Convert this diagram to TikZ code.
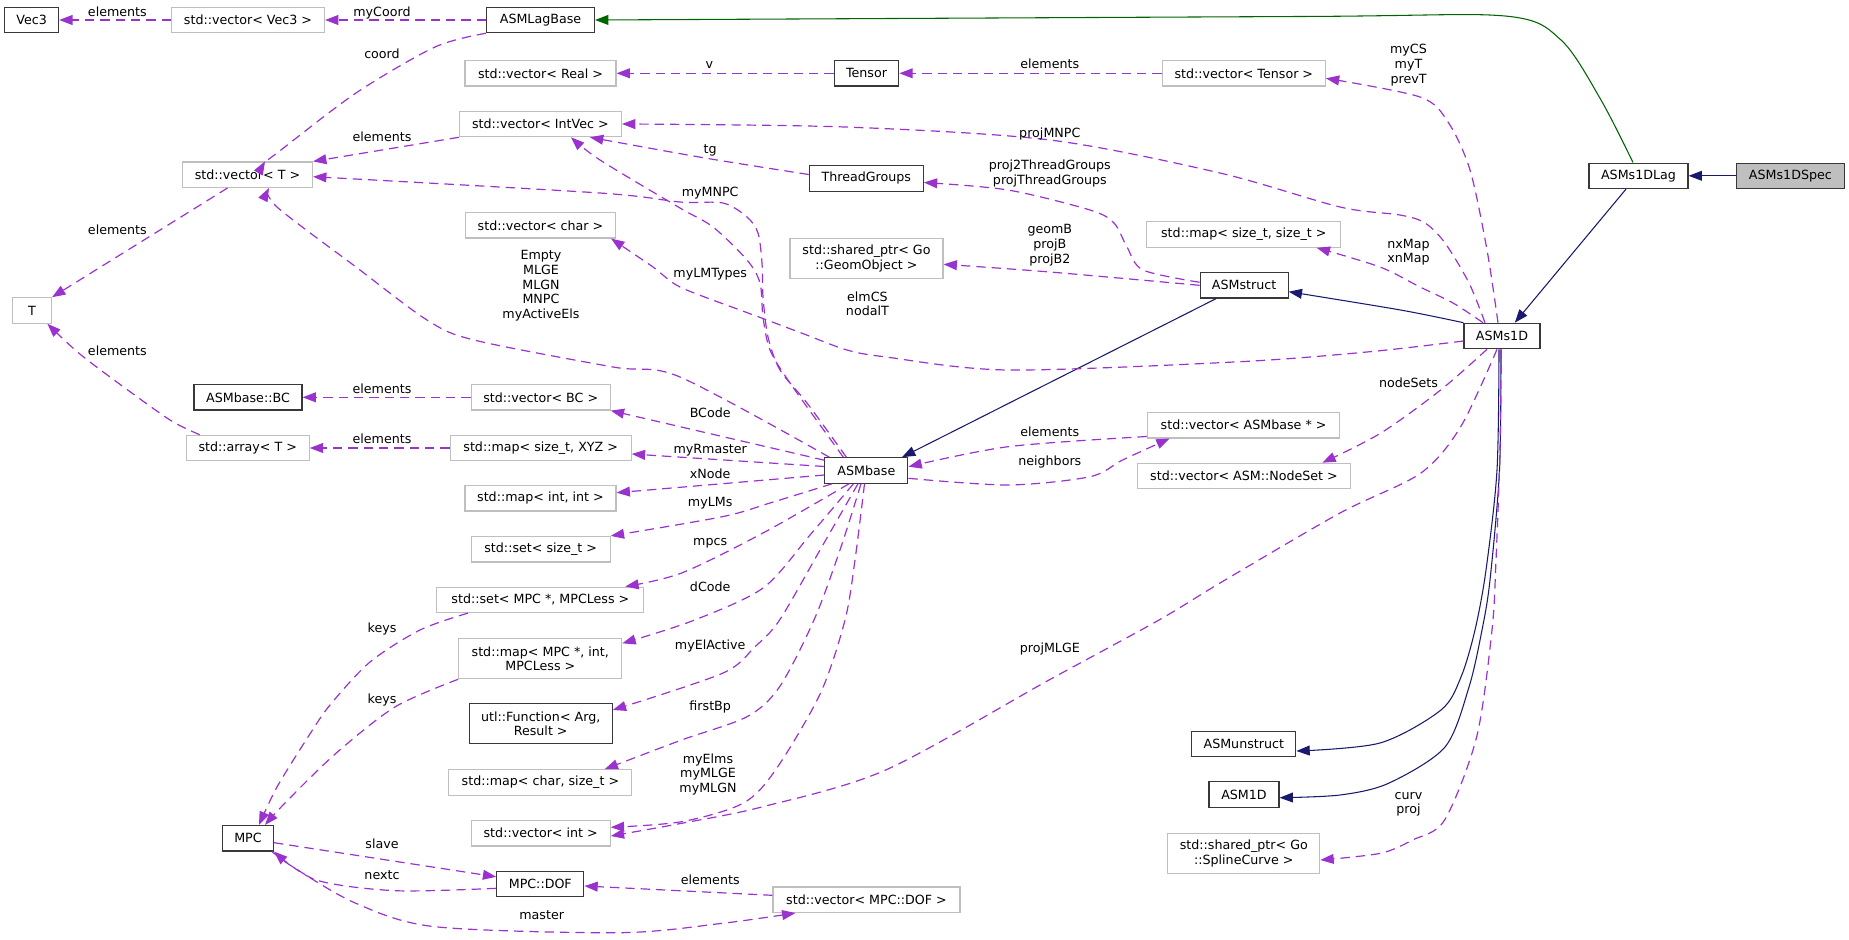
\documentclass[tikz,border=0pt]{standalone}
\usepackage{fontspec}
\setmainfont{DejaVu Sans}
\usetikzlibrary{arrows.meta,calc}
\definecolor{usecol}{HTML}{9A32CD}
\definecolor{inhcol}{HTML}{191970}
\definecolor{grncol}{HTML}{006400}
\definecolor{graybd}{HTML}{BFBFBF}
\newcommand\dgfont{\fontsize{9.5}{11}\selectfont}
\tikzset{
  nbox/.style={rectangle, inner xsep=2pt, inner ysep=1pt, minimum height=19.1pt, font=\dgfont, fill=white, align=center, line width=0.85pt},
  ubox/.style={nbox, draw=graybd},
  dbox/.style={nbox, draw=black!78},
  bw/.style={minimum width=#1*0.75pt},
  bh/.style={minimum height=#1*0.75pt},
  lbl/.style={inner sep=0pt, font=\dgfont, text height=6.9pt, text depth=0pt},
  mlbl/.style={inner sep=0pt, font=\dgfont, align=center},
  tip/.style={-{Triangle[length=10pt,width=7.4pt]}},
  usedge/.style={draw=usecol, line width=0.9pt, dash pattern=on 7pt off 4.5pt, tip},
  inhedge/.style={draw=inhcol, line width=0.8pt, tip},
  grnedge/.style={draw=grncol, line width=0.8pt, tip},
}
\begin{document}
\begin{tikzpicture}[x=0.75pt,y=-0.75pt]
\useasboundingbox (0,0) rectangle (1849,939);
% ---------- nodes ----------
\node[dbox,bw=54] (Vec3) at (31.6,20) {Vec3};
\node[ubox,bw=153] (vecVec3) at (248,20) {std::vector< Vec3 >};
\node[dbox,bw=108] (ASMLagBase) at (540.5,20) {ASMLagBase};
\node[ubox,bw=151] (vecReal) at (540.5,73.3) {std::vector< Real >};
\node[ubox,bw=162] (vecIntVec) at (540.4,124) {std::vector< IntVec >};
\node[ubox,bw=130] (vecT) at (247.5,174.7) {std::vector< T >};
\node[ubox,bw=150] (vecChar) at (540.5,225.3) {std::vector< char >};
\node[ubox,bw=39] (T) at (32,310.5) {T};
\node[dbox,bw=108] (BC) at (248,397.3) {ASMbase::BC};
\node[ubox,bw=139] (vecBC) at (540.7,397.3) {std::vector< BC >};
\node[ubox,bw=123] (arrT) at (247.7,448) {std::array< T >};
\node[ubox,bw=181] (mapXYZ) at (540.7,448) {std::map< size\_t, XYZ >};
\node[ubox,bw=151] (mapIntInt) at (540.5,498.3) {std::map< int, int >};
\node[ubox,bw=139] (setSizet) at (540.7,549.2) {std::set< size\_t >};
\node[ubox,bw=207] (setMPC) at (540.4,599.8) {std::set< MPC *, MPCLess >};
\node[ubox,bw=163,bh=40] (mapMPC) at (540.3,658.7) {std::map< MPC *, int,\\MPCLess >};
\node[dbox,bw=143,bh=40] (utlFunc) at (540.7,723.8) {utl::Function< Arg,\\Result >};
\node[ubox,bw=183] (mapChar) at (540.4,782.5) {std::map< char, size\_t >};
\node[ubox,bw=139] (vecInt) at (540.7,833.2) {std::vector< int >};
\node[dbox,bw=51] (MPC) at (248,838.3) {MPC};
\node[dbox,bw=87] (MPCDOF) at (540.3,883.8) {MPC::DOF};
\node[ubox,bw=187] (vecDOF) at (866.5,899.7) {std::vector< MPC::DOF >};
\node[dbox,bw=64.5] (Tensor) at (866.5,73.3) {Tensor};
\node[ubox,bw=163] (vecTensor) at (1243.8,73.3) {std::vector< Tensor >};
\node[dbox,bw=114] (ThreadGroups) at (866.3,178.5) {ThreadGroups};
\node[ubox,bw=194] (mapSizet) at (1243.8,234.5) {std::map< size\_t, size\_t >};
\node[ubox,bw=153,bh=40] (GeomObj) at (866.5,258.7) {std::shared\_ptr< Go\\::GeomObject >};
\node[dbox,bw=88] (ASMstruct) at (1244.1,285.3) {ASMstruct};
\node[dbox,bw=83] (ASMbase) at (866.4,470.5) {ASMbase};
\node[ubox,bw=192.5] (vecASMbase) at (1243.6,425.2) {std::vector< ASMbase * >};
\node[ubox,bw=213.6] (NodeSet) at (1244,476) {std::vector< ASM::NodeSet >};
\node[dbox,bw=104] (ASMunstruct) at (1243.8,743.8) {ASMunstruct};
\node[dbox,bw=70] (ASM1D) at (1244,794.5) {ASM1D};
\node[ubox,bw=152,bh=40] (Spline) at (1243.8,853.3) {std::shared\_ptr< Go\\::SplineCurve >};
\node[dbox,bw=76] (ASMs1D) at (1502,336) {ASMs1D};
\node[dbox,bw=99] (ASMs1DLag) at (1638.5,175.8) {ASMs1DLag};
\node[dbox,bw=107.5,fill=graybd] (ASMs1DSpec) at (1790.4,175.8) {ASMs1DSpec};
% ---------- inheritance ----------
\draw[inhedge] (ASMs1DSpec) -- (ASMs1DLag);
\draw[grnedge] plot[smooth] coordinates {($(ASMs1DLag.north)+(-5.5,0)$) (1601,100) (1561,40) (1505,16) (1300,16.5) (ASMLagBase.east)};
\draw[inhedge] ($(ASMs1DLag.south)+(-12.5,0)$) -- ($(ASMs1D.north)+(12.8,0)$);
\draw[inhedge] plot[smooth] coordinates {(ASMs1D.north west) (1400.5,310) ($(ASMstruct.east)+(0,6.4)$)};
\draw[inhedge] ($(ASMstruct.south)+(-28,0)$) -- ($(ASMbase.north)+(35.6,0)$);
\draw[inhedge] plot[smooth] coordinates {($(ASMs1D.south)+(-3,0)$) (1497,470) (1486,570) (1475,630) (1461,677) (1441,710) (1380,743) ($(ASMunstruct.east)+(0,7.2)$)};
\draw[inhedge] plot[smooth] coordinates {($(ASMs1D.south)+(-1,0)$) (1499.5,470) (1490,580) (1482,630) (1469,687) (1445,747) (1388.5,783.3) (1340,795) ($(ASM1D.east)+(0,3.2)$)};
% ---------- usage, top left ----------
\draw[usedge] (ASMLagBase) -- (vecVec3);
\draw[usedge] (vecVec3) -- (Vec3);
\draw[usedge] plot[smooth] coordinates {(ASMLagBase.south west) (435,47) (356,93) (277,153) ($(vecT.north)+(17.5,0)$)};
\draw[usedge] (vecIntVec.south west) -- (vecT.north east);
\draw[usedge] ($(vecT.south)+(-20,0)$) -- (T.north east);
\draw[usedge] plot[smooth] coordinates {($(arrT.north)+(-48,0)$) (170,420) (118.6,383.3) (79,353.3) ($(T.south)+(15.4,0)$)};
\draw[usedge] (vecBC) -- (BC);
\draw[usedge] (mapXYZ) -- (arrT);
\draw[usedge] (Tensor) -- (vecReal);
\draw[usedge] (vecTensor) -- (Tensor);
% ---------- usage from ASMs1D ----------
\draw[usedge] plot[smooth] coordinates {($(ASMs1D.north)+(-4,0)$) (1487,250) (1470,170) (1448,122) (1420,97) ($(vecTensor.east)+(0,5)$)};
\draw[usedge] plot[smooth] coordinates {($(ASMs1D.north)+(-17,0)$) (1469,283) (1445,243) (1425,223) (1400,215) (1340,207) (1220,173) (1050,140) (845,127) (vecIntVec.east)};
\draw[usedge] plot[smooth] coordinates {($(ASMs1D.north)+(-19,0)$) (1453,303) (1420,287) (1380,267) ($(mapSizet.south east)+(-24.7,0)$)};
\draw[usedge] plot[smooth] coordinates {($(ASMs1D.west)+(0,5)$) (1370,351.7) (1240,361.7) (1008,370) (886,357) (847,350) (804,334) (767,320) (740,310) (680,287) (653,267) ($(vecChar.south east)+(-5,0)$)};
\draw[usedge] plot[smooth] coordinates {($(ASMs1D.south)+(-15,0)$) (1440.6,390) (1380.4,433.3) ($(NodeSet.north east)+(-29,0)$)};
\draw[usedge] plot[smooth] coordinates {($(ASMs1D.south)+(-5,0)$) (1460.7,426.7) (1420.5,473.3) (1340,513) (1220,583) (1159,620) (1049,680) (885.7,770) (763,806.7) (681.6,823.3) ($(vecInt.east)+(0,2.8)$)};
\draw[usedge] plot[smooth] coordinates {($(ASMs1D.south)+(-1,0)$) (1500,450) (1496,560) (1492,630) (1476.7,736.7) (1444.6,820) (1412.5,840) (1380.4,853.3) ($(Spline.east)+(0,6.7)$)};
% ---------- usage from ASMstruct ----------
\draw[usedge] plot[smooth] coordinates {($(ASMstruct.west)+(0,-3)$) (1143,270) (1127,247) (1114,223) (1090,210) (1008,190) ($(ThreadGroups.east)+(0,4)$)};
\draw[usedge] plot[smooth] coordinates {(ASMstruct.west) (1050,272) ($(GeomObj.east)+(0,5.6)$)};
\draw[usedge] plot[smooth] coordinates {($(ThreadGroups.west)+(0,-4)$) (705,158) ($(vecIntVec.south east)+(-32,0)$)};
% ---------- usage from ASMbase, upwards ----------
\draw[usedge] plot[smooth] coordinates {($(ASMbase.north)+(-23,0)$) (790,383) (770,350) (763,317) (760,283) (747,260) (713,227) (680,208) (600,160) ($(vecIntVec.south)+(30.6,0)$)};
\draw[usedge] plot[smooth] coordinates {($(ASMbase.north)+(-20,0)$) (807,403) (780,370) (768,337) (763,297) (762,263) (758,233) (747,217) (723,203) (680,202) (600,193) ($(vecT.east)+(0,2)$)};
\draw[usedge] plot[smooth] coordinates {($(ASMbase.north west)+(5,0)$) (680,377) (613,367) (474,340) (427,320) (356,267) (277,207) ($(vecT.south)+(21.5,0)$)};
% ---------- usage from ASMbase, left fan ----------
\draw[usedge] ($(ASMbase.north west)+(0,3)$) -- (vecBC.south east);
\draw[usedge] ($(ASMbase.west)+(0,-4)$) -- ($(mapXYZ.east)+(0,6)$);
\draw[usedge] ($(ASMbase.west)+(0,4.5)$) -- ($(mapIntInt.east)+(0,-5.6)$);
\draw[usedge] plot[smooth] coordinates {($(ASMbase.south west)+(7.7,0)$) (770,503) (722.4,516.7) (setSizet.north east)};
\draw[usedge] plot[smooth] coordinates {($(ASMbase.south)+(-17.4,0)$) (763,533) (681.6,573) ($(setMPC.north east)+(-19.2,0)$)};
\draw[usedge] plot[smooth] coordinates {($(ASMbase.south)+(-13,0)$) (810,535) (763,588) (692,621) ($(mapMPC.east)+(0,-15.4)$)};
\draw[usedge] plot[smooth] coordinates {($(ASMbase.south)+(-8.4,0)$) (820,550) (779.6,620) (755,646.7) (722.4,673.3) ($(utlFunc.east)+(0,-13.8)$)};
\draw[usedge] plot[smooth] coordinates {($(ASMbase.south)+(-5.4,0)$) (840,550) (814,620) (779.6,686.7) (747,716.7) (681.6,740) ($(mapChar.north east)+(-27.8,0)$)};
\draw[usedge] plot[smooth] coordinates {($(ASMbase.south)+(-1.9,0)$) (855,560) (845,620) (820.4,693.3) (775.5,770) (742.9,803.3) (681.6,821.7) ($(vecInt.east)+(0,-5.9)$)};
% ---------- ASMbase right ----------
\draw[usedge] plot[smooth] coordinates {($(vecASMbase.south west)+(0,-2)$) (1008,446.7) ($(ASMbase.east)+(0,-3.8)$)};
\draw[usedge] plot[smooth] coordinates {($(ASMbase.east)+(0,7.8)$) (1008,485) (1090,476.7) (1122.6,460) ($(vecASMbase.south)+(-74,0)$)};
% ---------- MPC ----------
\draw[usedge] plot[smooth] coordinates {($(setMPC.south west)+(31.6,0)$) (420,630) (370,662) (330,705) (308,737) (277,787) ($(MPC.north)+(11,0)$)};
\draw[usedge] plot[smooth] coordinates {(mapMPC.south west) (395.4,706.7) (336,753.3) (284.7,803.3) ($(MPC.north)+(17,0)$)};
\draw[usedge] ($(MPC.east)+(0,4.4)$) -- ($(MPCDOF.west)+(0,-7)$);
\draw[usedge] plot[smooth] coordinates {($(MPCDOF.west)+(0,4.5)$) (395.4,890.7) (316.3,880) (MPC.south east)};
\draw[usedge] plot[smooth] coordinates {($(MPC.south east)+(-2,0)$) (293,867) (355.9,903.3) (435,926.7) (620,932.7) (722.4,923.3) ($(vecDOF.south west)+(23,0)$)};
\draw[usedge] ($(vecDOF.west)+(0,-4.4)$) -- ($(MPCDOF.east)+(0,2.2)$);
% ---------- labels ----------
\node[lbl] (La) at (117.4,11.7) {elements};
\node[lbl] (Lb) at (382,11.7) {myCoord};
\node[lbl] (Lc) at (382,54.3) {coord};
\node[lbl] (Ld) at (382,136.7) {elements};
\node[lbl] (Le) at (117.4,230.3) {elements};
\node[mlbl] (Lf) at (541,285.9) {Empty\\MLGE\\MLGN\\MNPC\\myActiveEls};
\node[lbl] (Lg) at (117.4,350.7) {elements};
\node[lbl] (Lh) at (382,388.7) {elements};
\node[lbl] (Li) at (382,439.3) {elements};
\node[lbl] (Lj) at (382,628.3) {keys};
\node[lbl] (Lk) at (382,699.3) {keys};
\node[lbl] (Ll) at (382,844.3) {slave};
\node[lbl] (Lm) at (382,875) {nextc};
\node[lbl] (Ln) at (541.7,915.3) {master};
\node[lbl] (Lo) at (710.2,880.3) {elements};
\node[lbl] (Lp) at (710.2,644.7) {myElActive};
\node[lbl] (Lq) at (710.2,706.3) {firstBp};
\node[mlbl] (Lr) at (708,774.3) {myElms\\myMLGE\\myMLGN};
\node[lbl] (Ls) at (1049.8,648) {projMLGE};
\node[mlbl] (Lt) at (1408.5,804.2) {curv\\proj};
\node[lbl] (Lu) at (709.4,64.3) {v};
\node[lbl] (Lv) at (1049.8,64.3) {elements};
\node[lbl] (Lw) at (1049.8,132.7) {projMNPC};
\node[lbl] (Lx) at (710.2,149) {tg};
\node[mlbl] (Ly) at (1049.8,173.8) {proj2ThreadGroups\\projThreadGroups};
\node[lbl] (Lz) at (710.2,192.3) {myMNPC};
\node[mlbl] (Laa) at (1049.8,245.1) {geomB\\projB\\projB2};
\node[lbl] (Lab) at (710.2,272.7) {myLMTypes};
\node[mlbl] (Lac) at (867.4,303.8) {elmCS\\nodalT};
\node[mlbl] (Lad) at (1408.5,65.2) {myCS\\myT\\prevT};
\node[mlbl] (Lae) at (1408.5,252.3) {nxMap\\xnMap};
\node[lbl] (Laf) at (1408.5,383.3) {nodeSets};
\node[lbl] (Lag) at (710.2,412.7) {BCode};
\node[lbl] (Lah) at (710.2,448.7) {myRmaster};
\node[lbl] (Lai) at (710.2,474.3) {xNode};
\node[lbl] (Laj) at (710.2,502.3) {myLMs};
\node[lbl] (Lak) at (710.2,540.7) {mpcs};
\node[lbl] (Lal) at (710.2,587.3) {dCode};
\node[lbl] (Lam) at (1049.8,431.7) {elements};
\node[lbl] (Lan) at (1049.8,460.7) {neighbors};
\end{tikzpicture}
\end{document}
